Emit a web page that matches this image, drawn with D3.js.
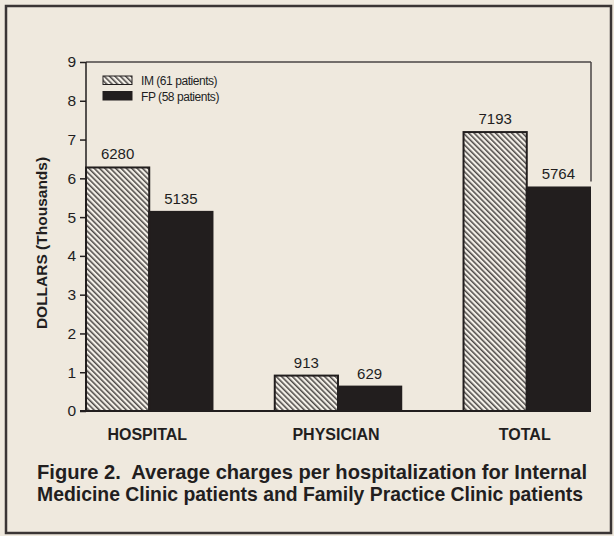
<!DOCTYPE html>
<html><head><meta charset="utf-8">
<script src="https://cdn.jsdelivr.net/npm/d3@7"></script>
<style>
html,body{margin:0;padding:0;background:#efe9de;}
svg{display:block;}
</style></head>
<body>
<script>
const categories = ["HOSPITAL", "PHYSICIAN", "TOTAL"];
const seriesNames = ["IM (61 patients)", "FP (58 patients)"];
const imValues = [6280, 913, 7193];
const fpValues = [5135, 629, 5764];
const yTicks = [0, 1, 2, 3, 4, 5, 6, 7, 8, 9];
const yTitle = "DOLLARS (Thousands)";
const captionLines = ["Figure 2.  Average charges per hospitalization for Internal",
                      "Medicine Clinic patients and Family Practice Clinic patients"];

(function () {
const W = 614, H = 536;
const svg = d3.select("body").append("svg").attr("width", W).attr("height", H);
const ink = "#221e1e";
const font = "'Liberation Sans', Arial, Helvetica, sans-serif";

// paper
svg.append("rect").attr("width", W).attr("height", H).attr("fill", "#efe9de");
svg.append("rect").attr("x", 6).attr("y", 6).attr("width", 605).attr("height", 527)
  .attr("fill", "none").attr("stroke", "#3a3535").attr("stroke-width", 2.5);

// hatch pattern
const defs = svg.append("defs");
const pat = defs.append("pattern").attr("id", "hatch").attr("patternUnits", "userSpaceOnUse")
  .attr("width", 3.8).attr("height", 10).attr("patternTransform", "rotate(-45)");
pat.append("rect").attr("width", 3.8).attr("height", 10).attr("fill", "#f4f0e8");
pat.append("line").attr("x1", 0.8).attr("y1", 0).attr("x2", 0.8).attr("y2", 10)
  .attr("stroke", ink).attr("stroke-width", 1.2);

const pLeft = 86, pRight = 590, pTop = 62, pBottom = 411;
const y = d3.scaleLinear().domain([0, 9]).range([pBottom, pTop]);
const x0 = d3.scaleBand().domain(categories).range([pLeft, pRight]).paddingInner(0.33).paddingOuter(0);
const x1 = d3.scaleBand().domain(seriesNames).range([0, x0.bandwidth()]).padding(0);

const data = categories.map((c, i) => ({cat: c, vals: [
  {s: seriesNames[0], v: imValues[i]}, {s: seriesNames[1], v: fpValues[i]}]}));

// frame top & right
svg.append("line").attr("x1", pLeft).attr("x2", pRight + 1).attr("y1", pTop).attr("y2", pTop)
  .attr("stroke", "#4a4444").attr("stroke-width", 1.5);
svg.append("line").attr("x1", pRight + 1).attr("x2", pRight + 1).attr("y1", pTop).attr("y2", y(fpValues[2] / 1000) - 6)
  .attr("stroke", "#4a4444").attr("stroke-width", 1.5);

// bars
const g = svg.append("g");
const groups = g.selectAll("g.grp").data(data).join("g").attr("class", "grp")
  .attr("transform", d => `translate(${x0(d.cat)},0)`);
groups.selectAll("rect").data(d => d.vals).join("rect")
  .attr("x", d => x1(d.s))
  .attr("y", d => y(d.v / 1000))
  .attr("width", x1.bandwidth())
  .attr("height", d => pBottom - y(d.v / 1000))
  .attr("fill", (d, i) => i === 0 ? "url(#hatch)" : ink)
  .attr("stroke", ink).attr("stroke-width", 2);
groups.selectAll("text").data(d => d.vals).join("text")
  .attr("x", d => x1(d.s) + x1.bandwidth() / 2)
  .attr("y", d => y(d.v / 1000) - 8)
  .attr("text-anchor", "middle").attr("font-family", font).attr("font-size", 15)
  .attr("fill", ink).text(d => d.v);

// y axis
const yAxis = d3.axisLeft(y).tickValues(yTicks).tickSize(6).tickPadding(4).tickFormat(d3.format("d"));
const ya = svg.append("g").attr("transform", `translate(${pLeft},0)`).call(yAxis);
ya.select(".domain").remove();
ya.selectAll(".tick line").attr("stroke", ink).attr("stroke-width", 1.5);
ya.selectAll(".tick text").attr("font-family", font).attr("font-size", 15.5).attr("fill", ink);
svg.append("line").attr("x1", pLeft).attr("x2", pLeft).attr("y1", pTop).attr("y2", pBottom)
  .attr("stroke", ink).attr("stroke-width", 1.5);
svg.append("line").attr("x1", pLeft - 6).attr("x2", pRight + 1).attr("y1", pBottom).attr("y2", pBottom)
  .attr("stroke", ink).attr("stroke-width", 1.8);

// category labels
svg.selectAll("text.cat").data(categories).join("text").attr("class", "cat")
  .attr("x", d => x0(d) + x0.bandwidth() / 2 - 2)
  .attr("y", 440)
  .attr("text-anchor", "middle").attr("font-family", font).attr("font-size", 16)
  .attr("font-weight", "bold").attr("fill", ink).text(d => d);

// y title
svg.append("text").attr("transform", "translate(47,243) rotate(-90)")
  .attr("text-anchor", "middle").attr("font-family", font).attr("font-size", 15.5)
  .attr("font-weight", "bold").attr("fill", ink).text(yTitle);

// legend
const leg = svg.append("g");
seriesNames.forEach((s, i) => {
  leg.append("rect").attr("x", 103).attr("y", 76 + i * 15.5).attr("width", 29).attr("height", 8.5)
    .attr("fill", i === 0 ? "url(#hatch)" : ink).attr("stroke", ink).attr("stroke-width", 1);
  leg.append("text").attr("x", 141).attr("y", 85 + i * 15.5)
    .attr("font-family", font).attr("font-size", 12).attr("letter-spacing", -0.45)
    .attr("fill", ink).text(s);
});

// caption
captionLines.forEach((t, i) => {
  svg.append("text").attr("x", 37).attr("y", 479 + i * 22)
    .attr("font-family", font).attr("font-size", 20.5).attr("font-weight", "bold")
    .style("white-space", "pre")
    .attr("fill", ink).attr("textLength", i === 0 ? 550 : 546).attr("lengthAdjust", "spacingAndGlyphs")
    .text(t);
});
})();
</script>
</body></html>
